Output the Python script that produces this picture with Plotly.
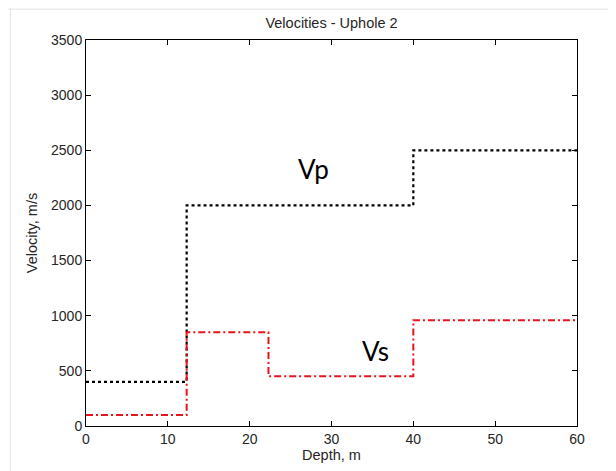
import plotly.graph_objects as go

# Layer boundaries (depth, m) and velocities (m/s)
vp_depth = [0, 12.3, 40, 60]
vp_vel = [400, 2000, 2500, 2500]
vs_depth = [0, 12.3, 22.3, 40, 60]
vs_vel = [100, 850, 450, 960, 960]

x_ticks = [0, 10, 20, 30, 40, 50, 60]
y_ticks = [0, 500, 1000, 1500, 2000, 2500, 3000, 3500]

FONT = "Liberation Sans, Arial"
TXT = "#262626"

fig = go.Figure()
fig.add_trace(go.Scatter(x=vp_depth, y=vp_vel, mode="lines", line_shape="hv",
                         line=dict(color="black", width=2.2, dash="dot"), name="Vp"))
fig.add_trace(go.Scatter(x=vs_depth, y=vs_vel, mode="lines", line_shape="hv",
                         line=dict(color="#e8141c", width=2, dash="7px,3px,2px,3px"), name="Vs"))

fig.add_annotation(x=27.8, y=2327, text="Vp", showarrow=False,
                   font=dict(family="Lato, Open Sans, sans-serif", size=26, color="black"))
fig.add_annotation(x=35.4, y=677, text="Vs", showarrow=False,
                   font=dict(family="Lato, Open Sans, sans-serif", size=26, color="black"))

axis_common = dict(showline=True, linecolor="black", linewidth=1, mirror="ticks",
                   ticks="inside", ticklen=5, tickcolor="black", showgrid=False,
                   zeroline=False, tickfont=dict(family=FONT, size=14, color=TXT))

fig.update_xaxes(range=[0, 60], tickvals=x_ticks,
                 title=dict(text="Depth, m", standoff=2,
                            font=dict(family=FONT, size=14.5, color=TXT)),
                 **axis_common)
fig.update_yaxes(range=[0, 3500], tickvals=y_ticks,
                 title=dict(text="Velocity, m/s", standoff=9,
                            font=dict(family=FONT, size=14.5, color=TXT)),
                 **axis_common)

W, H = 608, 463
fig.update_layout(
    width=W, height=H,
    margin=dict(l=78, r=39, t=32, b=35),
    paper_bgcolor="white", plot_bgcolor="white",
    showlegend=False,
    title=dict(text="Velocities - Uphole 2", x=0.5, xanchor="center", xref="paper",
               y=1 - 15 / H, yref="container", yanchor="middle",
               font=dict(family=FONT, size=14.5, color=TXT)),
    shapes=[
        dict(type="line", xref="paper", yref="paper", x0=-78 / 491, x1=1.1, y0=1 + 32 / 396 - 0.001,
             y1=1 + 32 / 396 - 0.001, line=dict(color="#e4e4e4", width=1)),
        dict(type="line", xref="paper", yref="paper", x0=-75.5 / 491, x1=-75.5 / 491, y0=1.1, y1=-0.2,
             line=dict(color="#e4e4e4", width=1)),
    ],
)

fig.write_html("out.html")
